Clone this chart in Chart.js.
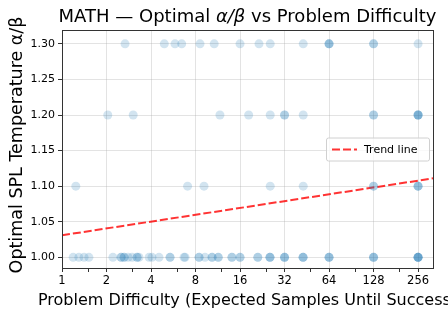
<!DOCTYPE html>
<html>
<head>
<meta charset="utf-8">
<script src="https://cdn.jsdelivr.net/npm/chart.js@4.4.1/dist/chart.umd.min.js"></script>
<style>
  html, body { margin: 0; padding: 0; background: #fff; }
  #wrap { width: 448px; height: 319px; }
</style>
</head>
<body>
<div id="wrap"><canvas id="c" width="448" height="319"></canvas></div>
<script>
// difficulty (expected samples until success) of problems, grouped by optimal alpha/beta
const diffAt100 = [1.19, 1.30, 1.41, 1.52, 2.21, 2.51, 2.51, 2.63, 2.63, 2.80, 2.98, 3.22, 3.22, 3.32,
  3.88, 4.06, 4.53, 5.38, 5.38, 6.69, 6.8, 8.45, 8.45, 9.27, 10.35, 10.35, 11.4, 11.4, 14.1, 14.1,
  16, 16, 21.1, 21.1, 25.5, 25.5, 25.5, 32, 32, 32, 42.7, 42.7, 42.7, 64, 64, 64,
  128, 128, 128, 256, 256, 256, 256, 256]
const diffAt110 = [1.24, 7.07, 9.13, 25.6, 42.8, 128, 128, 256, 256, 256]
const diffAt120 = [2.04, 3.03, 11.7, 18.3, 25.6, 32, 32, 42.8, 128, 128, 256, 256, 256, 256]
const diffAt130 = [2.67, 4.92, 5.81, 6.45, 8.58, 10.7, 16, 21.5, 25.6, 42.8, 64, 64, 64, 128, 128, 256]
const temps = [1.00, 1.10, 1.20, 1.30]

// trend line end points
const trendX = [1, 323]
const trendY = [1.031, 1.111]

const xMajor = [1, 2, 4, 8, 16, 32, 64, 128, 256]
const xMinor = [1.5, 3, 6, 12, 24, 48, 96, 192]
const yTicks = [1.00, 1.05, 1.10, 1.15, 1.20, 1.25, 1.30]

const xTitle = "Problem Difficulty (Expected Samples Until Success)"
const yTitle = "Optimal SPL Temperature α/β"

const FONT = "'DejaVu Sans', sans-serif"
const pointColor = "rgba(31,119,180,0.2)"

const groups = [diffAt100, diffAt110, diffAt120, diffAt130]
const points = []
groups.forEach((xs, i) => xs.forEach(x => points.push({ x, y: temps[i] })))

const trend = trendX.map((x, i) => ({ x, y: trendY[i] }))

const frame = {
  id: "frame",
  afterDraw(chart) {
    const { ctx, chartArea: a } = chart
    ctx.save()
    ctx.strokeStyle = "#333"
    ctx.lineWidth = 1
    ctx.strokeRect(Math.round(a.left) + 0.5, Math.round(a.top) + 0.5, Math.round(a.right - a.left), Math.round(a.bottom - a.top))
    ctx.restore()
  }
}

// title with italic alpha/beta, plus axis titles drawn at natural width
const titles = {
  id: "titles",
  afterDraw(chart) {
    const { ctx, chartArea: a } = chart
    const cx = (a.left + a.right) / 2
    const parts = [
      ["MATH — Optimal ", "18px " + FONT],
      ["α/β", "italic 18px " + FONT],
      [" vs Problem Difficulty", "18px " + FONT]
    ]
    ctx.save()
    let w = 0
    parts.forEach(p => { ctx.font = p[1]; w += ctx.measureText(p[0]).width })
    let x = cx - w / 2
    ctx.fillStyle = "#000"
    ctx.textBaseline = "alphabetic"
    parts.forEach(p => {
      ctx.font = p[1]
      ctx.fillText(p[0], x, 22)
      x += ctx.measureText(p[0]).width
    })

    ctx.font = "16px " + FONT
    ctx.textAlign = "center"
    ctx.textBaseline = "middle"
    ctx.fillText(xTitle, cx, 301)

    ctx.font = "17.5px " + FONT
    ctx.translate(17, (a.top + a.bottom) / 2 - 4)
    ctx.rotate(-Math.PI / 2)
    ctx.fillText(yTitle, 0, 0)
    ctx.restore()
  }
}

const legendPlugin = {
  id: "insideLegend",
  afterDraw(chart) {
    const { ctx, chartArea: a } = chart
    const ds = chart.data.datasets[1]
    const w = 103, h = 23
    const x = a.right - 4 - w
    const y = (a.top + a.bottom) / 2 - h / 2
    ctx.save()
    ctx.fillStyle = "rgba(255,255,255,0.8)"
    ctx.strokeStyle = "#d0d0d0"
    ctx.lineWidth = 1
    ctx.beginPath()
    ctx.roundRect(x + 0.5, y + 0.5, w, h, 2)
    ctx.fill()
    ctx.stroke()
    ctx.strokeStyle = ds.borderColor
    ctx.lineWidth = 2
    ctx.setLineDash([8, 3])
    ctx.beginPath()
    ctx.moveTo(x + 6, y + h / 2 + 0.5)
    ctx.lineTo(x + 31, y + h / 2 + 0.5)
    ctx.stroke()
    ctx.setLineDash([])
    ctx.fillStyle = "#000"
    ctx.font = "11px " + FONT
    ctx.textBaseline = "middle"
    ctx.fillText(ds.label, x + 38, y + h / 2 + 1)
    ctx.restore()
  }
}

new Chart(document.getElementById("c"), {
  type: "scatter",
  data: {
    datasets: [
      {
        label: "Problems",
        data: points,
        backgroundColor: pointColor,
        borderWidth: 0,
        pointRadius: 4.5,
        pointHoverRadius: 4.5
      },
      {
        type: "line",
        label: "Trend line",
        data: trend,
        borderColor: "rgba(255,0,0,0.8)",
        borderWidth: 2,
        borderDash: [8, 3],
        pointRadius: 0,
        fill: false
      }
    ]
  },
  options: {
    responsive: false,
    animation: false,
    layout: { padding: { top: 30, right: 15, left: 0, bottom: 0 } },
    plugins: { legend: { display: false }, title: { display: false }, tooltip: { enabled: false } },
    scales: {
      x: {
        type: "logarithmic",
        min: 1,
        max: 323,
        afterBuildTicks: s => { s.ticks = [...xMajor, ...xMinor].sort((p, q) => p - q).map(v => ({ value: v })) },
        afterFit: s => { s.height = 51 },
        ticks: {
          autoSkip: false,
          maxRotation: 0,
          padding: 2,
          color: "#000",
          font: { family: FONT, size: 11.5 },
          callback: v => xMajor.includes(v) ? String(v) : ""
        },
        grid: {
          color: c => xMajor.includes(c.tick && c.tick.value) ? "rgba(176,176,176,0.35)" : "rgba(0,0,0,0)",
          tickColor: "#333",
          tickLength: 4,
          lineWidth: 1
        },
        border: { color: "#333" }
      },
      y: {
        min: 0.985,
        max: 1.3195,
        afterBuildTicks: s => { s.ticks = yTicks.map(v => ({ value: v })) },
        afterFit: s => { s.width = 62 },
        ticks: {
          padding: 3,
          color: "#000",
          font: { family: FONT, size: 11 },
          callback: v => v.toFixed(2)
        },
        grid: {
          color: "rgba(176,176,176,0.35)",
          tickColor: "#333",
          tickLength: 4,
          lineWidth: 1
        },
        border: { color: "#333" }
      }
    }
  },
  plugins: [frame, titles, legendPlugin]
})
</script>
</body>
</html>
